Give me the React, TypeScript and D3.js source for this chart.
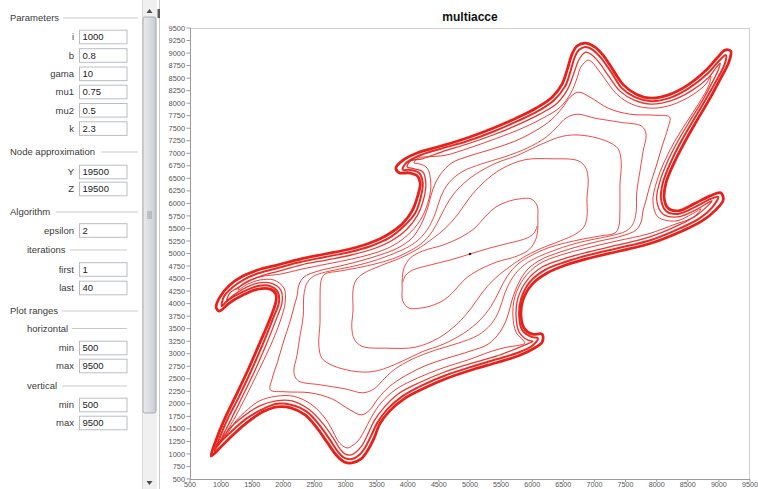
import React from 'react';
import * as d3 from 'd3';

type P = [number, number];

// ---------- sidebar content ----------
const parameterLabels = ['i', 'b', 'gama', 'mu1', 'mu2', 'k'];
const parameterValues = ['1000', '0.8', '10', '0.75', '0.5', '2.3'];
const nodeLabels = ['Y', 'Z'];
const nodeValues = ['19500', '19500'];
const algorithmLabels = ['epsilon'];
const algorithmValues = ['2'];
const iterationLabels = ['first', 'last'];
const iterationValues = ['1', '40'];
const horizontalLabels = ['min', 'max'];
const horizontalValues = ['500', '9500'];
const verticalLabels = ['min', 'max'];
const verticalValues = ['500', '9500'];

// ---------- axes ----------
const xTickValues = [500, 1000, 1500, 2000, 2500, 3000, 3500, 4000, 4500, 5000, 5500, 6000, 6500, 7000, 7500, 8000, 8500, 9000, 9500];
const yTickValues = [500, 750, 1000, 1250, 1500, 1750, 2000, 2250, 2500, 2750, 3000, 3250, 3500, 3750, 4000, 4250, 4500, 4750, 5000, 5250, 5500, 5750, 6000, 6250, 6500, 6750, 7000, 7250, 7500, 7750, 8000, 8250, 8500, 8750, 9000, 9250, 9500];

// ---------- curves (data units) ----------
const outerCurve: P[] = [[840,960],[920,1280],[1050,1680],[1240,2170],[1430,2670],[1620,3210],[1790,3710],[1880,4030],[1880,4190],[1790,4290],[1590,4290],[1350,4170],[1130,4010],[970,3850],[920,3930],[980,4130],[1140,4370],[1350,4550],[1590,4670],[1900,4770],[2270,4890],[2670,4990],[3070,5090],[3390,5210],[3670,5370],[3910,5590],[4070,5850],[4160,6150],[4200,6410],[4150,6550],[4020,6610],[3860,6610],[3810,6710],[3910,6850],[4160,7010],[4520,7140],[4940,7300],[5370,7500],[5740,7700],[6060,7900],[6320,8120],[6480,8380],[6570,8700],[6640,8980],[6720,9140],[6850,9200],[7010,9120],[7150,8940],[7310,8640],[7470,8360],[7670,8180],[7910,8100],[8180,8160],[8500,8360],[8780,8640],[8970,8900],[9100,9060],[9190,9040],[9160,8820],[9030,8500],[8840,8060],[8630,7620],[8440,7200],[8280,6810],[8150,6410],[8120,6110],[8180,5910],[8340,5850],[8600,5990],[8860,6150],[9030,6210],[9070,6070],[8950,5870],[8730,5650],[8410,5450],[7920,5210],[7410,5050],[6930,4910],[6540,4770],[6240,4610],[6000,4390],[5850,4070],[5820,3750],[5870,3510],[6000,3390],[6160,3390],[6160,3230],[6030,3110],[5800,2970],[5450,2830],[5060,2690],[4630,2510],[4260,2310],[3940,2100],[3710,1860],[3550,1600],[3460,1320],[3360,1080],[3250,900],[3100,820],[2980,840],[2850,980],[2700,1240],[2540,1520],[2350,1780],[2120,1920],[1900,1940],[1670,1840],[1430,1640],[1190,1380],[980,1120]];

const band1: P[] = [[890,1060],[970,1300],[1090,1660],[1290,2150],[1480,2650],[1670,3190],[1830,3690],[1930,4030],[1910,4230],[1790,4350],[1590,4350],[1340,4230],[1110,4070],[1010,3950],[1050,4150],[1190,4330],[1380,4490],[1610,4610],[1910,4710],[2270,4830],[2670,4930],[3070,5030],[3410,5150],[3700,5310],[3940,5550],[4120,5810],[4210,6130],[4240,6410],[4180,6610],[4020,6670],[3920,6670],[3960,6790],[4180,6950],[4530,7090],[4950,7240],[5390,7440],[5760,7640],[6090,7840],[6350,8060],[6530,8340],[6620,8660],[6690,8940],[6750,9060],[6850,9120],[6980,9060],[7120,8880],[7280,8600],[7440,8300],[7650,8120],[7910,8040],[8200,8100],[8520,8300],[8810,8580],[9000,8840],[9110,8960],[9100,8800],[8990,8520],[8790,8080],[8580,7640],[8390,7230],[8230,6830],[8100,6410],[8070,6090],[8150,5850],[8340,5790],[8620,5930],[8870,6090],[8990,6130],[8900,5930],[8700,5710],[8390,5510],[7910,5270],[7390,5110],[6910,4970],[6530,4830],[6200,4670],[5960,4430],[5820,4090],[5790,3750],[5840,3470],[6000,3330],[6090,3310],[6010,3170],[5790,3030],[5430,2890],[5050,2750],[4610,2570],[4230,2370],[3910,2150],[3670,1890],[3510,1620],[3410,1360],[3310,1120],[3220,980],[3100,900],[2980,920],[2880,1040],[2750,1280],[2590,1560],[2380,1840],[2120,1980],[1900,2000],[1660,1890],[1400,1700],[1160,1440],[950,1180]];

const band2: P[] = [[950,1160],[1010,1320],[1140,1640],[1340,2140],[1530,2630],[1720,3170],[1880,3670],[1980,4030],[1960,4270],[1800,4410],[1590,4410],[1350,4290],[1180,4150],[1090,4050],[1140,4210],[1260,4310],[1420,4430],[1640,4550],[1930,4650],[2280,4770],[2690,4870],[3090,4970],[3440,5090],[3730,5250],[3990,5490],[4160,5770],[4260,6110],[4290,6410],[4240,6630],[4100,6690],[3990,6730],[4050,6850],[4230,6890],[4550,7030],[4970,7190],[5400,7380],[5790,7580],[6120,7780],[6400,8000],[6570,8280],[6670,8600],[6740,8840],[6800,8960],[6860,9020],[6940,8980],[7070,8820],[7230,8540],[7410,8240],[7640,8060],[7910,7980],[8210,8040],[8550,8240],[8840,8520],[8950,8700],[9020,8800],[8990,8660],[8920,8480],[8740,8060],[8540,7660],[8340,7240],[8180,6850],[8050,6430],[8000,6070],[8100,5790],[8340,5730],[8630,5870],[8820,6010],[8890,6050],[8820,5950],[8650,5770],[8360,5570],[7890,5330],[7380,5170],[6900,5030],[6490,4890],[6160,4730],[5920,4470],[5770,4110],[5740,3750],[5790,3430],[5930,3270],[6010,3250],[5950,3210],[5760,3110],[5420,2950],[5030,2810],[4580,2630],[4200,2430],[3860,2210],[3620,1930],[3460,1660],[3360,1400],[3260,1160],[3170,1040],[3090,980],[2990,1000],[2910,1100],[2800,1320],[2640,1600],[2410,1890],[2140,2060],[1880,2060],[1620,1960],[1370,1760],[1130,1500],[1010,1280]];

const band3: P[] = [[1060,1320],[1110,1480],[1220,1720],[1400,2150],[1590,2630],[1790,3150],[1950,3650],[2030,4030],[2010,4310],[1850,4470],[1620,4470],[1430,4390],[1270,4270],[1340,4390],[1500,4490],[1690,4550],[1960,4590],[2300,4690],[2700,4790],[3100,4890],[3470,5010],[3780,5170],[4050,5430],[4230,5730],[4340,6090],[4370,6410],[4310,6710],[4180,6790],[4100,6810],[4180,6910],[4320,6930],[4600,6960],[5000,7110],[5430,7300],[5840,7500],[6170,7700],[6450,7920],[6620,8200],[6720,8500],[6780,8720],[6850,8820],[6900,8860],[6960,8820],[7040,8700],[7170,8480],[7360,8180],[7600,7980],[7910,7900],[8230,7960],[8570,8160],[8790,8380],[8870,8540],[8840,8360],[8680,8000],[8490,7640],[8290,7240],[8130,6850],[8000,6430],[7940,6050],[8020,5730],[8310,5650],[8570,5790],[8710,5890],[8650,5790],[8540,5690],[8310,5590],[7860,5390],[7360,5250],[6880,5110],[6460,4970],[6110,4790],[5870,4510],[5720,4130],[5690,3750],[5740,3430],[5880,3210],[5790,3170],[5590,3130],[5350,3050],[5000,2890],[4550,2710],[4150,2510],[3810,2290],[3570,2020],[3410,1720],[3300,1460],[3200,1260],[3100,1160],[3040,1120],[2980,1140],[2890,1240],[2810,1420],[2690,1680],[2460,1980],[2170,2150],[1880,2150],[1620,2060],[1420,1880],[1240,1660],[1140,1480]];

const level5: P[] = [[2220,4150],[2250,4370],[2330,4530],[2560,4650],[2910,4750],[3230,4850],[3550,4970],[3840,5110],[4070,5310],[4210,5570],[4320,5910],[4400,6270],[4520,6570],[4710,6810],[5000,6950],[5370,7090],[5720,7240],[6040,7440],[6300,7660],[6480,7900],[6610,8120],[6740,8220],[6930,8120],[7220,7900],[7570,7780],[7970,7760],[8210,7720],[8180,7500],[8090,7150],[7990,6730],[7890,6350],[7830,6070],[7780,5850],[7750,5630],[7670,5470],[7440,5350],[7090,5250],[6770,5150],[6450,5030],[6160,4890],[5930,4690],[5790,4430],[5680,4090],[5600,3730],[5480,3430],[5290,3190],[5000,3050],[4630,2910],[4280,2760],[3960,2560],[3700,2340],[3520,2100],[3390,1880],[3260,1780],[3070,1880],[2780,2100],[2430,2220],[2030,2240],[1790,2280],[1820,2500],[1910,2850],[2010,3270],[2110,3650],[2170,3930]];

const level4: P[] = [[2320,3750],[2330,4170],[2380,4410],[2490,4550],[2750,4650],[3070,4730],[3390,4830],[3630,4930],[3910,5070],[4130,5230],[4310,5470],[4440,5790],[4530,6130],[4660,6410],[4870,6630],[5190,6790],[5560,6930],[5930,7110],[6220,7320],[6410,7540],[6540,7700],[6720,7780],[7010,7700],[7410,7620],[7760,7540],[7830,7380],[7780,7030],[7730,6630],[7680,6230],[7670,5830],[7620,5590],[7510,5450],[7250,5350],[6930,5270],[6610,5170],[6370,5070],[6090,4930],[5870,4770],[5690,4530],[5560,4210],[5470,3870],[5340,3590],[5130,3370],[4810,3210],[4440,3070],[4070,2890],[3780,2680],[3590,2460],[3460,2300],[3280,2220],[2990,2300],[2590,2380],[2240,2460],[2170,2620],[2220,2970],[2270,3370]];

const level3: P[] = [[2590,4070],[2610,4470],[2670,4590],[2910,4650],[3180,4710],[3470,4790],[3750,4890],[4000,5030],[4230,5210],[4400,5450],[4530,5750],[4660,6050],[4840,6330],[5100,6590],[5430,6810],[5770,6960],[6090,7150],[6490,7340],[6800,7360],[7200,7240],[7380,7090],[7430,6830],[7410,6370],[7410,5910],[7390,5530],[7330,5410],[7090,5350],[6820,5290],[6530,5210],[6250,5110],[6000,4970],[5770,4790],[5600,4550],[5470,4250],[5340,3950],[5160,3670],[4900,3410],[4570,3190],[4230,3040],[3910,2850],[3510,2660],[3200,2640],[2800,2760],[2620,2910],[2570,3170],[2590,3630]];

const level2: P[] = [[3120,3870],[3120,4270],[3170,4470],[3300,4610],[3550,4750],[3880,4910],[4160,5090],[4390,5290],[4610,5510],[4810,5790],[4980,6090],[5210,6410],[5510,6690],[5880,6870],[6320,6890],[6740,6850],[6860,6710],[6900,6470],[6880,6110],[6880,5730],[6830,5530],[6700,5390],[6450,5250],[6120,5090],[5840,4910],[5610,4710],[5390,4490],[5190,4210],[5020,3910],[4790,3590],[4490,3310],[4120,3130],[3680,3110],[3260,3150],[3140,3290],[3100,3530]];

const level1: P[] = [[6090,5510],[6090,5690],[6080,5950],[5980,6090],[5800,6090],[5640,6050],[5420,5930],[5240,5730],[5080,5510],[4860,5330],[4570,5170],[4240,5050],[4040,4910],[3940,4710],[3910,4470],[3910,4310],[3920,4050],[4020,3910],[4200,3910],[4360,3950],[4580,4070],[4760,4270],[4920,4490],[5140,4670],[5430,4830],[5760,4950],[5960,5090],[6060,5290]];

const seedLine: P[] = [[3920,4430],[3970,4570],[4080,4670],[4360,4770],[4680,4870],[5000,4990],[5320,5110],[5640,5210],[5920,5310],[6030,5410],[6080,5550]];

const fixedPoint: P = [5000, 4990];

// ---------- layout ----------
const PLOT = { left: 190, right: 750, top: 28, bottom: 479 };
const RED = '#e8201a';
const FONT = '"Liberation Sans", Arial, sans-serif';

type Section =
  | { kind: 'header'; text: string; y: number; x: number; lineFrom: number; lineTo: number }
  | { kind: 'rows'; labels: string[]; values: string[]; ys: number[] };

const sections: Section[] = [
  { kind: 'header', text: 'Parameters', x: 10, y: 18, lineFrom: 63, lineTo: 138 },
  { kind: 'rows', labels: parameterLabels, values: parameterValues, ys: [37, 55.5, 73.8, 92, 110.3, 128.6] },
  { kind: 'header', text: 'Node approximation', x: 10, y: 152, lineFrom: 101, lineTo: 138 },
  { kind: 'rows', labels: nodeLabels, values: nodeValues, ys: [172, 189] },
  { kind: 'header', text: 'Algorithm', x: 10, y: 212, lineFrom: 56, lineTo: 138 },
  { kind: 'rows', labels: algorithmLabels, values: algorithmValues, ys: [230.5] },
  { kind: 'header', text: 'iterations', x: 27, y: 250, lineFrom: 70, lineTo: 127 },
  { kind: 'rows', labels: iterationLabels, values: iterationValues, ys: [269.5, 288] },
  { kind: 'header', text: 'Plot ranges', x: 10, y: 311, lineFrom: 62, lineTo: 138 },
  { kind: 'header', text: 'horizontal', x: 27, y: 328.5, lineFrom: 72, lineTo: 127 },
  { kind: 'rows', labels: horizontalLabels, values: horizontalValues, ys: [348, 366] },
  { kind: 'header', text: 'vertical', x: 27, y: 386, lineFrom: 62, lineTo: 127 },
  { kind: 'rows', labels: verticalLabels, values: verticalValues, ys: [405, 423] },
];

export default function App() {
  const x = d3.scaleLinear().domain([500, 9500]).range([PLOT.left, PLOT.right]);
  const y = d3.scaleLinear().domain([500, 9500]).range([PLOT.bottom, PLOT.top]);

  const closed = d3
    .line<P>()
    .x((d) => x(d[0]))
    .y((d) => y(d[1]))
    .curve(d3.curveCatmullRomClosed.alpha(0.5));
  const open = d3
    .line<P>()
    .x((d) => x(d[0]))
    .y((d) => y(d[1]))
    .curve(d3.curveCatmullRom.alpha(0.5));

  const curves: { data: P[]; w: number; op: number }[] = [
    { data: level2, w: 1, op: 0.8 },
    { data: level3, w: 1, op: 0.8 },
    { data: level4, w: 1, op: 0.8 },
    { data: level5, w: 1, op: 0.85 },
    { data: level1, w: 1, op: 0.8 },
    { data: band3, w: 1, op: 0.85 },
    { data: band2, w: 1.3, op: 0.9 },
    { data: band1, w: 2, op: 0.95 },
    { data: outerCurve, w: 2.8, op: 1 },
  ];

  return (
    <svg
      width={758}
      height={489}
      style={{ position: 'absolute', left: 0, top: 0, background: '#fff' }}
      fontFamily={FONT}
    >
      <defs>
        <linearGradient id="thumb" x1="0" x2="1" y1="0" y2="0">
          <stop offset="0" stopColor="#e9ebee" />
          <stop offset="0.5" stopColor="#dadde2" />
          <stop offset="1" stopColor="#c7cad0" />
        </linearGradient>
      </defs>
      <rect x={0} y={0} width={758} height={489} fill="#fff" />

      {/* ----- sidebar ----- */}
      {sections.map((s, si) => {
        if (s.kind === 'header') {
          return (
            <g key={si}>
              <text x={s.x} y={s.y + 3.3} fontSize={9.5} fill="#3a3a3a">
                {s.text}
              </text>
              <line x1={s.lineFrom} x2={s.lineTo} y1={s.y} y2={s.y} stroke="#c9c9c9" strokeWidth={1} />
            </g>
          );
        }
        return (
          <g key={si}>
            {s.labels.map((lab, i) => (
              <g key={i}>
                <text x={74} y={s.ys[i] + 3.3} fontSize={9.5} fill="#3a3a3a" textAnchor="end">
                  {lab}
                </text>
                <rect x={79.5} y={s.ys[i] - 6.8} width={47.5} height={13.6} fill="#fff" stroke="#b9bec4" strokeWidth={1} />
                <text x={82.5} y={s.ys[i] + 3.3} fontSize={9.5} fill="#222">
                  {s.values[i]}
                </text>
              </g>
            ))}
          </g>
        );
      })}

      {/* scrollbar */}
      <rect x={142} y={0} width={15} height={489} fill="#f0f0f0" />
      <line x1={142.5} x2={142.5} y1={0} y2={489} stroke="#dcdcdc" />
      <rect x={143} y={17} width={13} height={396} rx={2} fill="url(#thumb)" stroke="#a9acb1" />
      {[0, 1, 2, 3].map((k) => (
        <line key={k} x1={147} x2={152} y1={212 + k * 2} y2={212 + k * 2} stroke="#8d9096" strokeWidth={0.8} />
      ))}
      <path d="M146.5,13 L149.5,9 L152.5,13 Z" fill="#4a4a4a" />
      <path d="M146.5,481 L149.5,485 L152.5,481 Z" fill="#4a4a4a" />
      <line x1={159.5} x2={159.5} y1={0} y2={489} stroke="#c8c8c8" />
      <rect x={157.5} y={9} width={2.5} height={9} fill="#5a5a5a" />

      {/* ----- plot ----- */}
      <text x={470} y={20.5} fontSize={12} fontWeight="bold" textAnchor="middle" fill="#111">
        multiacce
      </text>
      <line x1={PLOT.left} x2={PLOT.right} y1={PLOT.top + 0.5} y2={PLOT.top + 0.5} stroke="#d0d0d0" />
      <line x1={PLOT.right - 0.5} x2={PLOT.right - 0.5} y1={PLOT.top} y2={PLOT.bottom} stroke="#d0d0d0" />
      <line x1={PLOT.left + 0.5} x2={PLOT.left + 0.5} y1={PLOT.top} y2={PLOT.bottom} stroke="#9a9a9a" />
      <line x1={PLOT.left} x2={PLOT.right} y1={PLOT.bottom + 0.5} y2={PLOT.bottom + 0.5} stroke="#9a9a9a" />

      {yTickValues.map((t) => (
        <g key={'y' + t}>
          <line x1={186.5} x2={190.5} y1={y(t)} y2={y(t)} stroke="#9a9a9a" />
          <text x={185} y={y(t) + 2.6} fontSize={7.4} textAnchor="end" fill="#555">
            {t}
          </text>
        </g>
      ))}
      {xTickValues.map((t) => (
        <g key={'x' + t}>
          <line x1={x(t)} x2={x(t)} y1={479.5} y2={482} stroke="#9a9a9a" />
          <text x={x(t)} y={487.2} fontSize={7.2} textAnchor="middle" fill="#555">
            {t}
          </text>
        </g>
      ))}

      {curves.map((c, i) => (
        <path
          key={i}
          d={closed(c.data) || ''}
          fill="none"
          stroke={RED}
          strokeWidth={c.w}
          strokeOpacity={c.op}
          strokeLinejoin="round"
        />
      ))}
      <path d={open(seedLine) || ''} fill="none" stroke={RED} strokeWidth={1} strokeOpacity={0.8} />
      <circle cx={x(fixedPoint[0])} cy={y(fixedPoint[1])} r={1.3} fill="#222" />
    </svg>
  );
}
